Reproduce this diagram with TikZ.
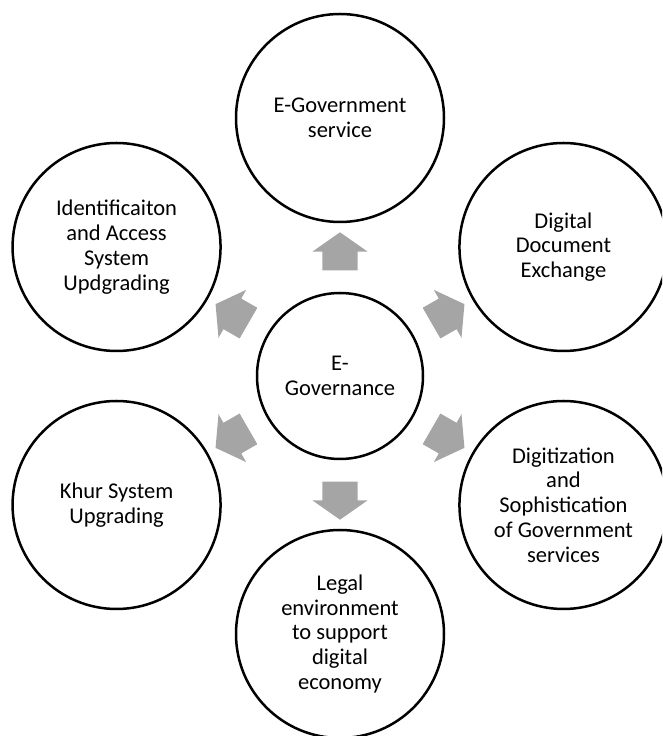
\documentclass[tikz,border=0pt]{standalone}
\usepackage{fontspec}
\setmainfont{Carlito}
\usetikzlibrary{shapes.arrows}
\definecolor{arrowgray}{RGB}{165,165,165}

\begin{document}
\begin{tikzpicture}[
        x=1pt, y=1pt,
        hub/.style={circle, draw=black, line width=2.5pt, minimum size=166pt, inner sep=0, align=center, font=\fontsize{22.5}{24.8}\selectfont},
        goal/.style={hub, minimum size=208pt},
        push/.style={single arrow, fill=arrowgray, draw=none, minimum height=38pt, minimum width=55pt, single arrow head extend=10pt, single arrow tip angle=110, inner xsep=0, inner ysep=17.5pt, sloped, allow upside down}
    ]

        % page size
        \useasboundingbox (0,0) rectangle (662,736);
        \clip (0,0) rectangle (662,736);

        % centre circle
        \node[hub] (core) at (340,360) {E-\\Governance};

        % outer circles (clockwise from the top)
        \def\dist{258}
        \node[goal] (goal-1) at ([shift={(90:\dist)}]core) {E-Government\\service};
        \node[goal] (goal-2) at ([shift={(30:\dist)}]core) {Digital\\Document\\Exchange};
        \node[goal] (goal-3) at ([shift={(-30:\dist)}]core) {Digitization\\and\\Sophistication\\of Government\\services};
        \node[goal] (goal-4) at ([shift={(-90:\dist)}]core) {Legal\\environment\\to support\\digital\\economy};
        \node[goal] (goal-5) at ([shift={(210:\dist)}]core) {Khur System\\Upgrading};
        \node[goal] (goal-6) at ([shift={(150:\dist)}]core) {Identificaiton\\and Access\\System\\Updgrading};

        % block arrows in the gaps
        \foreach \i in {1,...,6}{
            \path (core) -- node[push] (push-\i) {} (goal-\i);
        }

    \end{tikzpicture}
\end{document}
